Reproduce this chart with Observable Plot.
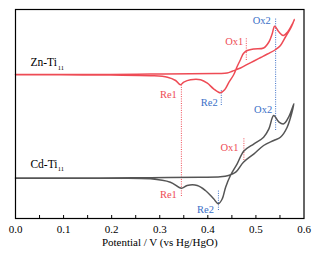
<!DOCTYPE html>
<html><head><meta charset="utf-8">
<script src="https://cdn.jsdelivr.net/npm/d3@7"></script>
<script src="https://cdn.jsdelivr.net/npm/@observablehq/plot@0.6"></script>
<style>body{margin:0;background:#fff} svg text{font-family:"Liberation Serif","DejaVu Serif",serif !important;}</style>
</head><body><div id="chart"></div>
<script>
// Potential (V vs Hg/HgO) and current (arbitrary units, curves offset) – closed CV loops
const znV = [0.000,0.094,0.198,0.281,0.364,0.416,0.440,0.451,0.468,0.481,0.496,0.510,0.524,0.541,0.551,0.562,0.572,0.580,
             0.576,0.566,0.557,0.548,0.539,0.534,0.527,0.516,0.496,0.480,0.474,0.468,0.461,0.454,0.444,0.435,0.426,0.412,0.399,0.385,0.364,0.350,0.343,0.333,0.316,0.281,0.198,0.094,0.000];
const znI = [144.0,144.0,144.1,144.4,144.8,145.1,145.4,147.3,150.5,153.8,157.5,161.0,164.5,169.0,173.0,182.0,190.0,199.0,
             194.7,186.5,183.0,186.5,192.3,185.0,176.5,170.5,169.5,167.5,165.0,159.0,152.0,144.0,136.3,128.7,125.7,129.7,135.3,138.7,138.7,136.3,133.7,138.0,141.3,142.8,143.4,143.7,143.8];
const cdV = [0.000,0.177,0.281,0.385,0.426,0.443,0.458,0.474,0.496,0.516,0.537,0.551,0.565,0.579,
             0.568,0.558,0.548,0.537,0.527,0.516,0.496,0.475,0.461,0.447,0.437,0.430,0.422,0.412,0.395,0.378,0.357,0.345,0.322,0.281,0.177,0.000];
const cdI = [40.5,40.5,40.8,41.2,41.7,43.0,46.3,56.3,64.7,73.0,78.0,81.3,91.3,114.7,
             101.3,94.7,96.3,103.0,89.7,81.3,74.7,67.5,54.7,43.0,31.3,19.7,14.7,19.7,28.0,33.0,33.0,30.3,36.3,39.7,40.2,40.3];

// Peak markers (dotted guides)
const markV    = [0.345, 0.428, 0.480, 0.541, 0.475, 0.422];
const markI1   = [22, 113, 158, 88, 58, 8];
const markI2   = [134, 128, 181, 200, 81, 28];
const markKind = ["red","blue","red","blue","red","blue"];

// Peak labels
const labText = ["Re1","Re2","Ox1","Ox2","Ox2","Ox1","Re1","Re2"];
const labV    = [0.318,0.403,0.455,0.512,0.515,0.445,0.318,0.395];
const labI    = [124,116.3,177,198,109,71,24,9];
const labKind = ["red","blue","red","blue","blue","red","red","blue"];

const seriesName = ["Zn-Ti","Cd-Ti"];
const seriesSub = ["11","11"];
const seriesV = [0.031,0.031];
const seriesI = [156,54.3];
const subV = [0.088,0.088];

const xMajor = [0,0.1,0.2,0.3,0.4,0.5,0.6];
const xMinor = [0.05,0.1,0.15,0.2,0.25,0.3,0.35,0.4,0.45,0.5,0.55];

const colors = {red:"#ee4b55", blue:"#3b6fc7", grey:"#555555"};
const serif = "Liberation Serif";

const curves = [
  ...znV.map((v,i)=>({v, c:znI[i], s:"Zn"})),
  ...cdV.map((v,i)=>({v, c:cdI[i], s:"Cd"}))
];
const marks = markV.map((v,i)=>({v, y1:markI1[i], y2:markI2[i], col:colors[markKind[i]]}));
const labels = labText.map((t,i)=>({t, v:labV[i], c:labI[i], col:colors[labKind[i]]}));
const series = seriesName.map((t,i)=>({t, sub:seriesSub[i], v:seriesV[i], sv:subV[i], c:seriesI[i]}));

const chart = Plot.plot({
  width: 318, height: 256,
  marginTop: 9, marginBottom: 38, marginLeft: 15, marginRight: 14.5,
  x: {domain: [0, 0.6]},
  y: {domain: [0, 209], axis: null},
  style: {fontFamily: serif, background: "white", color: "black"},
  marks: [
    Plot.ruleX(xMinor, {x: d=>d, y1: 0, y2: 3, stroke: "black", strokeWidth: 1}),
    Plot.axisX({ticks: xMajor, tickFormat: d=>d.toFixed(1), tickSize: 0, tickPadding: 7, fontSize: 11, label: null, fontFamily: serif}),
    Plot.text(["Potential / V (vs Hg/HgO)"], {frameAnchor: "bottom", dy: 27, fontSize: 11, fill: "black", fontFamily: serif}),
    Plot.ruleX(marks, {x: "v", y1: "y1", y2: "y2", stroke: "col", strokeDasharray: "1,1.3", strokeWidth: 1}),
    Plot.line(curves, {x: "v", y: "c", z: "s", stroke: d => d.s === "Zn" ? colors.red : colors.grey, curve: "catmull-rom", strokeWidth: 1.5}),
    Plot.text(labels, {x: "v", y: "c", text: "t", fill: "col", fontSize: 10.5, fontFamily: serif}),
    Plot.text(series, {x: "v", y: "c", text: "t", textAnchor: "start", fontSize: 11.5, fill: "black", fontFamily: serif}),
    Plot.text(series, {x: "sv", y: "c", text: "sub", textAnchor: "start", dy: 5, fontSize: 6.5, fill: "black", fontFamily: serif}),
    Plot.frame({stroke: "black", strokeWidth: 1.2})
  ]
});
document.getElementById("chart").appendChild(chart);
</script></body></html>
